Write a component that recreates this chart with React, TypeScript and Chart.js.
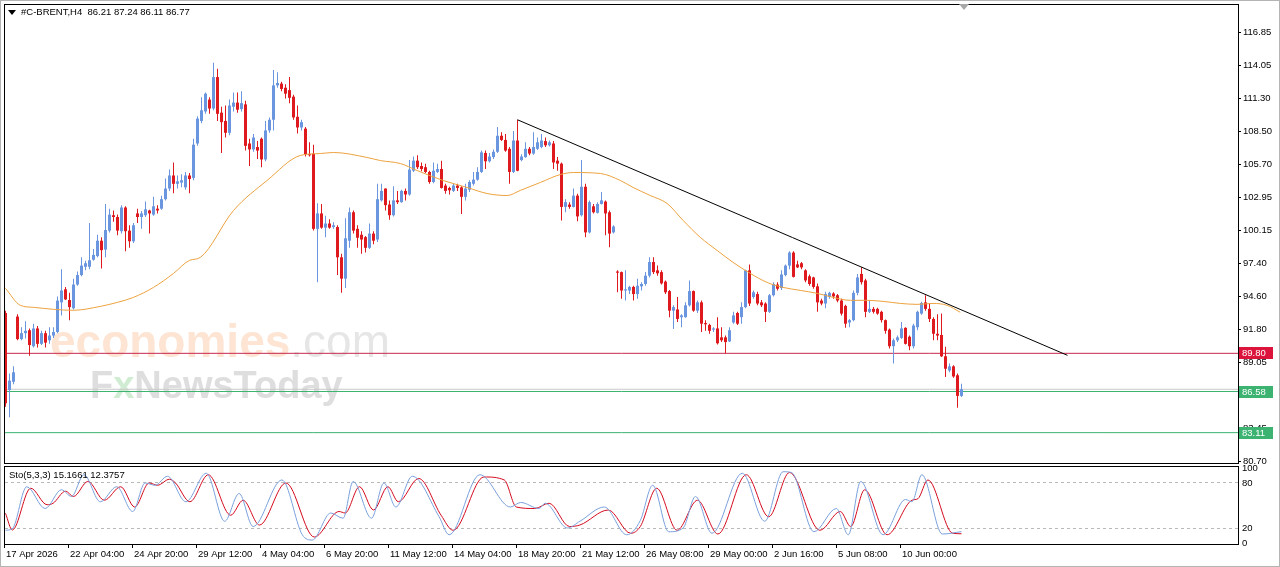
import React, { useEffect, useRef } from 'react';
import { Chart, registerables } from 'chart.js';

Chart.register(...registerables);

// ---------- DATA ----------
const opens = [
  93.2, 86.7, 87.4, 92.9, 91.0, 91.5, 91.75, 90.4, 91.9, 90.6,
  91.5, 90.9, 91.3, 91.6, 94.1, 95.2, 94.3, 93.6, 95.6, 96.4,
  97.1, 97.1, 97.7, 98.0, 99.3, 98.55, 100.15, 101.45, 101.3, 100.1,
  102.1, 100.15, 99.25, 101.6, 101.3, 101.45, 101.85, 101.5, 102.0, 102.0,
  102.8, 103.7, 104.8, 104.1, 104.2, 103.8, 104.8, 104.6, 107.5, 109.4,
  110.2, 111.2, 110.45, 113.1, 110.1, 109.4, 108.4, 110.6, 110.95, 110.4,
  110.8, 107.5, 107.0, 107.2, 107.9, 106.15, 108.6, 109.5, 112.4, 112.55,
  112.2, 112.0, 111.45, 109.75, 108.85, 108.75, 106.6, 106.65, 100.3, 101.6,
  100.4, 100.75, 100.45, 100.45, 97.9, 96.1, 99.3, 101.7, 100.3, 99.8,
  99.6, 98.7, 99.9, 99.4, 102.7, 103.7, 102.35, 101.45, 102.7, 102.55,
  103.5, 103.2, 105.2, 106.05, 105.6, 105.5, 105.1, 104.25, 105.1, 105.35,
  103.95, 103.75, 103.5, 103.95, 103.8, 103.0, 103.6, 104.1, 104.45, 105.1,
  106.7, 106.0, 106.35, 106.8, 108.15, 107.8, 107.05, 105.1, 107.75, 106.1,
  106.35, 107.05, 106.65, 107.05, 107.2, 107.7, 107.35, 107.5, 106.05, 105.8,
  102.15, 102.35, 102.15, 103.1, 101.45, 103.85, 100.0, 102.2, 101.65, 102.4,
  102.6, 101.7, 100.0, 96.7, 96.65, 95.1, 95.1, 95.4, 94.8, 95.45,
  95.65, 96.35, 97.5, 96.8, 96.65, 95.85, 95.05, 93.4, 93.5, 92.85,
  92.85, 93.85, 95.05, 93.4, 94.1, 92.35, 92.2, 91.8, 91.9, 91.15,
  91.15, 90.8, 92.4, 93.2, 92.85, 93.7, 96.8, 94.55, 94.8, 94.1,
  94.0, 93.3, 94.7, 95.6, 95.3, 96.4, 97.2, 98.3, 97.3, 97.4,
  96.8, 96.3, 96.2, 95.45, 94.25, 94.0, 94.55, 94.85, 94.7, 94.25,
  93.8, 92.4, 92.6, 94.9, 96.5, 95.95, 93.3, 93.55, 93.55, 93.3,
  92.6, 91.8, 90.4, 90.9, 91.1, 91.95, 91.2, 90.4, 92.0, 93.15,
  94.1, 93.55, 92.7, 91.45, 91.35, 89.55, 88.35, 88.7, 87.95, 86.21,
];
const highs = [
  93.4, 88.1, 88.7, 93.1, 92.0, 92.5, 91.9, 92.3, 92.1, 91.7,
  91.7, 92.0, 92.0, 94.6, 96.9, 95.4, 94.9, 96.1, 96.7, 97.9,
  97.6, 100.8, 98.6, 99.8, 99.6, 102.4, 102.0, 101.85, 101.5, 102.3,
  102.2, 100.6, 100.8, 102.0, 101.8, 102.6, 101.9, 103.0, 102.3, 103.1,
  104.55, 105.3, 105.9, 104.8, 104.9, 105.1, 105.0, 107.9, 109.8, 111.4,
  111.8, 111.4, 114.3, 113.8, 110.6, 110.7, 111.2, 111.8, 111.8, 111.9,
  111.1, 107.9, 108.3, 107.7, 108.0, 109.4, 109.7, 113.7, 113.5, 112.7,
  112.5, 113.1, 111.6, 110.7, 109.5, 108.9, 107.6, 107.4, 102.45, 102.4,
  101.4, 101.1, 100.85, 100.6, 98.2, 101.2, 102.1, 101.85, 100.6, 100.1,
  99.7, 100.75, 100.1, 104.1, 104.1, 103.7, 102.7, 103.9, 103.5, 103.6,
  103.7, 106.1, 106.4, 106.5, 105.9, 105.8, 105.2, 105.9, 105.8, 106.05,
  104.1, 103.85, 104.1, 104.1, 103.9, 104.1, 104.4, 105.1, 105.5, 106.9,
  106.9, 106.7, 107.0, 108.9, 108.45, 108.3, 107.2, 108.55, 109.5, 106.6,
  107.6, 107.2, 108.45, 108.0, 108.3, 108.0, 107.75, 107.7, 106.35, 105.9,
  102.8, 102.55, 103.7, 103.25, 106.1, 104.1, 102.7, 102.4, 102.55, 103.4,
  102.7, 101.85, 100.6, 96.8, 96.7, 96.8, 95.5, 95.5, 96.1, 95.8,
  96.65, 97.9, 97.9, 97.2, 96.8, 95.95, 95.15, 93.85, 94.55, 93.1,
  94.1, 95.95, 95.1, 94.25, 94.25, 92.6, 92.3, 92.0, 92.85, 92.0,
  91.3, 92.0, 93.3, 93.3, 94.1, 96.85, 97.3, 95.1, 95.0, 94.3,
  94.1, 94.8, 95.8, 95.8, 96.8, 97.3, 98.4, 98.4, 97.6, 97.5,
  96.9, 96.45, 96.25, 95.7, 94.4, 95.0, 95.0, 94.95, 94.8, 94.4,
  93.9, 92.7, 95.1, 96.5, 97.05, 96.1, 94.25, 93.7, 93.65, 93.4,
  92.65, 91.9, 91.05, 91.3, 92.45, 92.0, 91.3, 92.3, 93.4, 94.15,
  94.7, 94.0, 92.85, 93.1, 93.15, 90.35, 88.95, 88.8, 88.1, 87.24,
];
const lows = [
  85.3, 84.4, 87.2, 90.9, 90.9, 91.05, 89.6, 90.3, 90.3, 90.5,
  90.3, 90.6, 91.1, 91.5, 93.0, 94.3, 92.6, 93.5, 95.5, 96.3,
  96.8, 96.9, 97.6, 97.9, 96.95, 97.9, 100.0, 100.9, 99.75, 99.9,
  98.4, 98.7, 99.1, 100.8, 100.3, 101.3, 99.9, 101.4, 101.6, 101.9,
  102.7, 103.5, 103.3, 103.7, 103.8, 103.6, 103.3, 104.4, 107.3, 109.2,
  110.0, 110.0, 110.3, 109.4, 106.7, 108.0, 108.2, 110.2, 110.1, 110.2,
  106.9, 105.6, 106.8, 106.2, 105.5, 106.0, 108.4, 108.6, 112.2, 111.9,
  111.3, 110.9, 109.5, 108.35, 108.6, 106.4, 106.4, 100.15, 95.8, 100.3,
  99.6, 100.3, 100.3, 96.4, 94.9, 95.3, 98.7, 99.9, 98.7, 98.2,
  98.3, 98.6, 99.0, 99.2, 102.6, 101.85, 101.06, 101.35, 102.4, 102.5,
  102.7, 103.1, 105.1, 105.35, 105.15, 105.0, 104.1, 104.15, 105.0, 103.7,
  103.25, 103.2, 103.4, 103.5, 101.55, 102.7, 103.4, 103.95, 104.35, 105.0,
  105.35, 105.9, 106.2, 106.7, 107.7, 106.8, 104.1, 105.0, 105.15, 106.0,
  106.3, 106.5, 106.55, 106.95, 107.1, 107.2, 107.25, 105.35, 105.2, 101.0,
  101.7, 102.0, 102.1, 100.95, 101.35, 99.6, 99.9, 101.6, 101.6, 102.35,
  99.75, 98.75, 99.9, 94.95, 94.4, 94.25, 94.8, 94.25, 94.4, 95.1,
  95.5, 96.2, 96.5, 96.35, 95.6, 94.8, 92.85, 91.85, 92.45, 92.0,
  92.8, 93.75, 93.3, 93.2, 91.6, 91.7, 91.45, 91.6, 90.55, 90.75,
  89.8, 90.75, 92.3, 92.2, 92.3, 93.6, 93.8, 94.4, 93.85, 93.7,
  92.45, 93.2, 94.6, 95.1, 95.15, 96.3, 96.9, 96.2, 97.0, 96.9,
  95.8, 95.5, 95.25, 93.3, 93.85, 93.6, 94.4, 94.4, 94.1, 93.0,
  91.95, 92.0, 92.5, 94.7, 95.6, 92.85, 93.2, 93.15, 93.05, 92.4,
  91.45, 90.2, 88.95, 90.75, 91.0, 90.55, 90.05, 90.2, 91.75, 93.05,
  93.4, 92.45, 90.9, 90.9, 89.5, 87.8, 88.2, 87.75, 85.2, 86.11,
];
const closes = [
  85.6, 87.5, 88.2, 91.0, 91.5, 91.7, 90.5, 91.9, 90.6, 91.5,
  90.7, 91.3, 91.6, 94.25, 95.1, 94.35, 93.7, 95.6, 96.4, 97.2,
  97.4, 97.65, 98.1, 99.3, 98.5, 100.2, 101.5, 101.3, 100.15, 102.1,
  100.1, 99.25, 100.6, 101.3, 101.6, 101.95, 101.6, 102.2, 101.85, 102.8,
  103.7, 104.8, 104.1, 104.3, 104.4, 104.8, 104.5, 107.4, 109.6, 110.3,
  111.7, 110.45, 113.1, 110.0, 109.3, 108.4, 110.7, 110.95, 110.35, 110.9,
  107.3, 107.0, 108.0, 106.9, 106.15, 108.6, 109.5, 112.4, 112.6, 112.1,
  111.7, 111.35, 109.7, 108.85, 109.3, 106.6, 106.5, 100.3, 101.6, 100.4,
  100.75, 100.4, 100.6, 97.9, 96.1, 99.5, 101.7, 100.15, 99.55, 99.4,
  98.7, 99.9, 99.3, 102.8, 103.5, 102.3, 101.45, 102.7, 102.55, 103.5,
  103.2, 105.3, 106.05, 105.5, 105.35, 105.1, 104.25, 105.2, 105.35, 103.75,
  103.5, 103.55, 103.95, 103.75, 103.0, 103.7, 104.25, 104.45, 105.1, 106.75,
  106.0, 106.4, 106.8, 108.15, 107.8, 106.9, 105.1, 107.75, 105.2, 106.4,
  107.05, 106.65, 107.2, 107.6, 107.75, 107.35, 107.6, 105.9, 105.8, 102.15,
  102.55, 102.15, 103.1, 101.35, 103.85, 100.0, 102.55, 101.7, 102.4, 102.7,
  101.6, 99.9, 100.5, 96.6, 95.1, 95.2, 95.4, 94.8, 95.5, 95.65,
  96.35, 97.5, 96.65, 96.55, 95.7, 94.95, 93.4, 93.7, 92.7, 93.0,
  93.85, 95.05, 93.4, 94.1, 92.3, 92.25, 91.7, 91.9, 90.65, 90.9,
  90.75, 91.75, 93.0, 92.3, 93.7, 96.8, 94.0, 94.95, 94.0, 93.85,
  93.3, 94.7, 95.65, 95.25, 96.45, 97.2, 98.3, 96.25, 97.05, 97.05,
  95.95, 95.65, 95.4, 94.1, 94.0, 94.8, 94.9, 94.6, 94.25, 93.15,
  92.3, 92.6, 94.9, 96.2, 95.8, 93.3, 93.55, 93.3, 93.15, 92.6,
  91.7, 90.4, 90.9, 91.15, 91.9, 90.6, 90.4, 92.15, 93.3, 94.05,
  93.55, 92.7, 91.45, 91.3, 89.55, 88.5, 88.7, 87.85, 86.21, 86.77,
];

// moving average (bar index, value)
const maBars = [0, 3.7, 7, 12, 17, 23.7, 28, 32, 37, 42, 46, 48.7, 57, 65.4, 73.7, 78.7, 82, 90.4, 93.7, 98.7, 102.9, 109.4, 115.4, 120.4, 125.4, 128.7, 133.7, 138.7, 142, 148.7, 153.7, 156.9, 161.2, 165.4, 169.4, 173.7, 177.9, 181.9, 186.2, 190.4, 194.4, 198.7, 202.9, 206.9, 211.2, 215.4, 219.4, 223.7, 227.9, 231.9, 235.4, 238.7];
const maValues = [95.28, 93.85, 93.68, 93.51, 93.43, 93.76, 94.1, 94.52, 95.36, 96.54, 97.64, 97.89, 101.85, 104.38, 106.49, 106.65, 106.74, 106.32, 106.06, 105.81, 105.22, 104.38, 103.79, 103.28, 103.11, 103.54, 104.21, 104.88, 105.05, 104.97, 104.38, 103.79, 103.11, 102.44, 101.01, 99.58, 98.48, 97.47, 96.54, 95.78, 95.36, 95.11, 94.86, 94.52, 94.27, 94.27, 94.18, 94.01, 93.93, 94.01, 93.85, 93.26];

// stochastic (5,3,3)
const kBars = [0, 1.7, 5.3, 9.9, 14.0, 16.5, 19.6, 23.7, 27.8, 31.8, 34.9, 37.4, 40.5, 45.1, 50.2, 54.8, 58.4, 61.9, 69.1, 74.2, 76.7, 81.3, 84.4, 86.9, 91.5, 94.6, 97.6, 101.7, 108.4, 110.9, 118.6, 126.2, 128.8, 133.4, 134.9, 140.5, 143.6, 149.7, 155.3, 158.7, 161.8, 165.8, 169.4, 172.5, 176.6, 184.2, 189.8, 194.4, 196.5, 202.1, 207.7, 210.7, 213.8, 219.4, 225.0, 226.6, 229.1, 234.2, 239];
const kValues = [17, 19, 75, 46, 71, 62, 91, 55, 75, 42, 80, 77, 89, 55, 93, 29, 66, 22, 84, 11, 4, 40, 33, 82, 33, 80, 48, 89, 35, 11, 91, 48, 54, 46, 53, 20, 29, 48, 11, 30, 77, 15, 20, 62, 13, 93, 29, 95, 94, 15, 46, 11, 82, 11, 58, 55, 91, 12, 15.1661];
const dBars = [0, 1.7, 6.3, 10.4, 11.9, 15.0, 17.0, 20.6, 24.7, 28.8, 32.3, 35.9, 38.0, 41.0, 42.5, 46.1, 50.7, 56.3, 59.4, 63.5, 70.1, 77.2, 83.4, 84.9, 88.5, 92.0, 95.6, 98.2, 103.3, 108.9, 111.9, 119.6, 124.7, 127.7, 132.3, 135.9, 141.0, 143.6, 150.7, 156.3, 158.7, 162.8, 167.9, 173.0, 178.1, 185.2, 190.8, 196.0, 203.6, 208.7, 211.3, 214.8, 220.4, 226.6, 228.1, 230.6, 236.8, 239];
const dValues = [39.6, 17.3, 73, 51, 53, 69, 62, 82, 57, 75, 48, 80, 77, 85, 80, 55, 91, 37, 57, 24, 80, 8, 42, 40, 75, 44, 75, 55, 86, 37, 17, 88, 84, 48, 46, 53, 22, 24, 44, 13, 22, 73, 17, 57, 12, 91, 35, 94, 17, 42, 22, 71, 11, 57, 59, 84, 13, 12.3757];

const priceTicks = [80.70, 83.45, 86.25, 89.05, 91.80, 94.60, 97.40, 100.15, 102.95, 105.70, 108.50, 111.30, 114.05, 116.85];
const stochTicks = [0, 20, 80, 100];
const stochLevels = [20, 80];
const timeLabels = ['17 Apr 2026', '22 Apr 04:00', '24 Apr 20:00', '29 Apr 12:00', '4 May 04:00', '6 May 20:00', '11 May 12:00', '14 May 04:00', '18 May 20:00', '21 May 12:00', '26 May 08:00', '29 May 00:00', '2 Jun 16:00', '5 Jun 08:00', '10 Jun 00:00'];
const timeLabelBars = [0, 16, 32, 48, 64, 80, 96, 112, 128, 144, 160, 176, 192, 208, 224];
const levelPrices = [89.80, 86.58, 83.11];
const trendBars = [128, 265.5];
const trendPrices = [109.5, 89.63];
const symbol = '#C-BRENT,H4';

// ---------- STYLE ----------
const BULL = '#6A95DF';
const BEAR = '#DE1A1F';
const MA_COLOR = '#ECA23E';
const LEVEL_COLORS = ['#C8284E', '#3CB371', '#3CB371'];
const LEVEL_BOX = ['#DC143C', '#3CB371', '#3CB371'];
const FONT_FAMILY = '"Liberation Sans", Arial, sans-serif';
const X_MIN = -0.125;
const X_MAX = 308.125;
const Y_MIN = 80.55;
const Y_MAX = 119.18;

const noPad = (s: any) => {
  s.paddingTop = 0;
  s.paddingBottom = 0;
  s.paddingLeft = 0;
  s.paddingRight = 0;
};

const framePlugin = {
  id: 'frame',
  afterDraw(chart: any) {
    const { ctx, chartArea: a } = chart;
    ctx.save();
    ctx.strokeStyle = '#000';
    ctx.lineWidth = 1;
    ctx.strokeRect(a.left - 0.5, a.top - 0.5, a.right - a.left + 1, a.bottom - a.top + 1);
    ctx.restore();
  },
};

const watermarkPlugin = {
  id: 'watermark',
  beforeDatasetsDraw(chart: any) {
    const { ctx } = chart;
    ctx.save();
    ctx.textBaseline = 'alphabetic';
    ctx.font = `bold 46px ${FONT_FAMILY}`;
    ctx.fillStyle = 'rgba(250, 190, 150, 0.42)';
    const x0 = 50;
    ctx.fillText('economies', x0, 357);
    const w1 = ctx.measureText('economies').width;
    ctx.font = `46px ${FONT_FAMILY}`;
    ctx.fillStyle = 'rgba(200, 200, 200, 0.45)';
    ctx.fillText('.com', x0 + w1, 357);
    ctx.font = `bold 38px ${FONT_FAMILY}`;
    let x = 90;
    const parts: [string, string][] = [['F', 'rgba(190,190,190,0.5)'], ['x', 'rgba(150,215,160,0.45)'], ['NewsToday', 'rgba(190,190,190,0.5)']];
    for (const [t, c] of parts) {
      ctx.fillStyle = c;
      ctx.fillText(t, x, 398);
      x += ctx.measureText(t).width;
    }
    ctx.restore();
  },
};

const levelLabelPlugin = {
  id: 'levelLabels',
  afterDraw(chart: any) {
    const { ctx } = chart;
    const y = chart.scales.y;
    ctx.save();
    ctx.font = `9.5px ${FONT_FAMILY}`;
    ctx.textBaseline = 'middle';
    levelPrices.forEach((p, k) => {
      const py = Math.round(y.getPixelForValue(p));
      ctx.fillStyle = LEVEL_BOX[k];
      ctx.fillRect(1239, py - 6, 34, 12);
      ctx.fillStyle = '#fff';
      ctx.fillText(p.toFixed(2), 1242, py + 0.5);
    });
    ctx.restore();
  },
};

function mainConfig(): any {
  const isBull = (i: number) => closes[i] >= opens[i];
  const bodyData = opens.map((o, i) => ({ x: i, y: [o, closes[i]] }));
  const wickData = lows.map((l, i) => ({ x: i, y: [l, highs[i]] }));
  const lastClose = closes[closes.length - 1];
  const levelSets = levelPrices.map((p, k) => ({
    type: 'line',
    data: [{ x: X_MIN, y: p }, { x: X_MAX, y: p }],
    borderColor: LEVEL_COLORS[k],
    borderWidth: 1,
    pointRadius: 0,
    order: 5,
  }));
  return {
    type: 'bar',
    data: {
      datasets: [
        {
          type: 'line',
          data: [{ x: X_MIN, y: lastClose }, { x: X_MAX, y: lastClose }],
          borderColor: '#C8C8C8',
          borderWidth: 1,
          pointRadius: 0,
          order: 6,
        },
        ...levelSets,
        {
          data: wickData,
          backgroundColor: (c: any) => (isBull(c.dataIndex) ? BULL : BEAR),
          barThickness: 1,
          grouped: false,
          inflateAmount: 0,
          borderWidth: 0,
          order: 3,
        },
        {
          data: bodyData,
          backgroundColor: (c: any) => (isBull(c.dataIndex) ? BULL : BEAR),
          barThickness: 3,
          grouped: false,
          inflateAmount: 0,
          borderWidth: 0,
          minBarLength: 1,
          order: 2,
        },
        {
          type: 'line',
          data: maBars.map((b, k) => ({ x: b, y: maValues[k] })),
          borderColor: MA_COLOR,
          borderWidth: 1,
          pointRadius: 0,
          cubicInterpolationMode: 'monotone',
          order: 1,
        },
        {
          type: 'line',
          data: trendBars.map((b, k) => ({ x: b, y: trendPrices[k] })),
          borderColor: '#000',
          borderWidth: 1,
          pointRadius: 0,
          order: 0,
        },
      ],
    },
    options: {
      animation: false,
      responsive: false,
      maintainAspectRatio: false,
      events: [],
      layout: { padding: { left: 5, top: 5, right: 0, bottom: 3 } },
      plugins: { legend: { display: false }, tooltip: { enabled: false } },
      scales: {
        x: { type: 'linear', min: X_MIN, max: X_MAX, display: false, offset: false },
        y: {
          position: 'right',
          min: Y_MIN,
          max: Y_MAX,
          afterBuildTicks: (s: any) => { s.ticks = priceTicks.map((v) => ({ value: v })); },
          afterFit: (s: any) => { s.width = 42; noPad(s); },
          ticks: {
            callback: (v: any) => Number(v).toFixed(2),
            font: { family: FONT_FAMILY, size: 9.5 },
            color: '#000',
            padding: 2,
            autoSkip: false,
          },
          grid: { drawOnChartArea: false, drawTicks: true, tickLength: 3, tickColor: '#000' },
          border: { display: false },
        },
      },
    },
    plugins: [watermarkPlugin, framePlugin, levelLabelPlugin],
  };
}

function stochConfig(): any {
  return {
    type: 'line',
    data: {
      datasets: [
        {
          data: kBars.map((b, j) => ({ x: b, y: kValues[j] })),
          borderColor: '#7AA0DC',
          borderWidth: 1,
          pointRadius: 0,
          cubicInterpolationMode: 'monotone',
        },
        {
          data: dBars.map((b, j) => ({ x: b, y: dValues[j] })),
          borderColor: '#D40A1E',
          borderWidth: 1,
          pointRadius: 0,
          cubicInterpolationMode: 'monotone',
        },
      ],
    },
    options: {
      animation: false,
      responsive: false,
      maintainAspectRatio: false,
      events: [],
      layout: { padding: { left: 5, top: 3, right: 0, bottom: 0 } },
      plugins: { legend: { display: false }, tooltip: { enabled: false } },
      scales: {
        x: {
          type: 'linear',
          min: X_MIN,
          max: X_MAX,
          offset: false,
          afterBuildTicks: (s: any) => { s.ticks = timeLabelBars.map((b) => ({ value: b - 0.375 })); },
          afterFit: (s: any) => { s.height = 23; noPad(s); },
          ticks: {
            callback: (_v: any, idx: number) => timeLabels[idx],
            align: 'start',
            labelOffset: 2,
            maxRotation: 0,
            autoSkip: false,
            padding: 1,
            font: { family: FONT_FAMILY, size: 9.5 },
            color: '#000',
          },
          grid: { drawOnChartArea: false, drawTicks: true, tickLength: 4, tickColor: '#000' },
          border: { display: false },
        },
        y: {
          position: 'right',
          min: -1.3,
          max: 101.3,
          afterBuildTicks: (s: any) => { s.ticks = stochTicks.map((v) => ({ value: v })); },
          afterFit: (s: any) => { s.width = 42; noPad(s); },
          ticks: {
            font: { family: FONT_FAMILY, size: 9.5 },
            color: '#000',
            padding: 4,
            autoSkip: false,
          },
          grid: {
            drawTicks: false,
            color: (c: any) => (c.tick && stochLevels.includes(c.tick.value) ? '#B8B8B8' : 'rgba(0,0,0,0)'),
          },
          border: { display: false, dash: [3, 3] },
        },
      },
    },
    plugins: [framePlugin],
  };
}

export default function App() {
  const mainRef = useRef<HTMLCanvasElement>(null);
  const stochRef = useRef<HTMLCanvasElement>(null);

  useEffect(() => {
    document.body.style.margin = '0';
    const main = new Chart(mainRef.current as HTMLCanvasElement, mainConfig());
    const st = new Chart(stochRef.current as HTMLCanvasElement, stochConfig());
    return () => {
      main.destroy();
      st.destroy();
    };
  }, []);

  const last = closes.length - 1;
  const header = `${symbol}  ${opens[last].toFixed(2)} ${highs[last].toFixed(2)} ${lows[last].toFixed(2)} ${closes[last].toFixed(2)}`;
  const stochHeader = `Sto(5,3,3) ${kValues[kValues.length - 1].toFixed(4)} ${dValues[dValues.length - 1].toFixed(4)}`;

  return (
    <div
      style={{
        position: 'fixed',
        left: 0,
        top: 0,
        width: 1280,
        height: 567,
        background: '#fff',
        overflow: 'hidden',
        fontFamily: FONT_FAMILY,
      }}
    >
      <canvas ref={mainRef} width={1280} height={466} style={{ position: 'absolute', left: 0, top: 0, width: 1280, height: 466 }} />
      <canvas ref={stochRef} width={1280} height={103} style={{ position: 'absolute', left: 0, top: 464, width: 1280, height: 103 }} />
      <div
        style={{
          position: 'absolute', left: 8, top: 10, width: 0, height: 0,
          borderLeft: '4px solid transparent', borderRight: '4px solid transparent', borderTop: '5px solid #000',
        }}
      />
      <div style={{ position: 'absolute', left: 21, top: 6, fontSize: 9.5, lineHeight: '12px', color: '#000', whiteSpace: 'pre' }}>
        {header}
      </div>
      <div style={{ position: 'absolute', left: 9, top: 469, fontSize: 9.5, lineHeight: '12px', color: '#000', whiteSpace: 'pre' }}>
        {stochHeader}
      </div>
      <div
        style={{
          position: 'absolute', left: 959, top: 4, width: 0, height: 0,
          borderLeft: '5px solid transparent', borderRight: '5px solid transparent', borderTop: '6px solid #A8A8A8',
        }}
      />
      <div style={{ position: 'absolute', left: 0, top: 0, width: 1280, height: 567, boxSizing: 'border-box', border: '1px solid #B4B4B4', pointerEvents: 'none' }} />
    </div>
  );
}
